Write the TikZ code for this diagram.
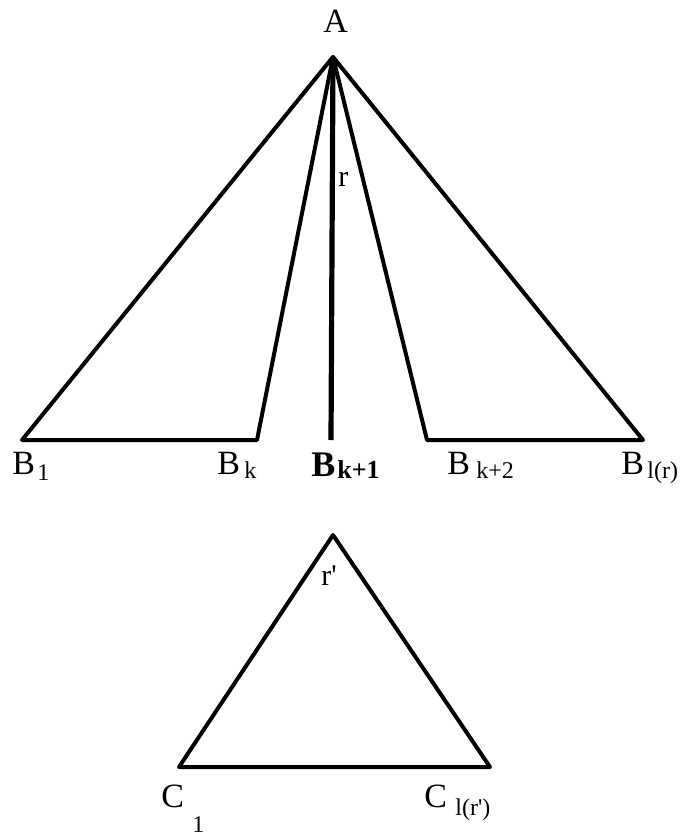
\documentclass[tikz,border=0pt]{standalone}
\usepackage{fontspec}
\setmainfont{Liberation Serif}
\begin{document}
\begin{tikzpicture}[x=0.5pt,y=-0.5pt,
  edge/.style={line width=2pt,line join=round,line cap=round},
  mainedge/.style={line width=2.6pt,line cap=butt},
  lbl/.style={anchor=base west,inner sep=0pt,font=\fontsize{17}{20}\selectfont},
  blbl/.style={anchor=base west,inner sep=0pt,font=\fontsize{18}{20}\selectfont\bfseries},
  sub/.style={anchor=base west,inner sep=0pt,font=\fontsize{12}{14}\selectfont},
  bsub/.style={anchor=base west,inner sep=0pt,font=\fontsize{13}{14}\selectfont\bfseries},
  small/.style={anchor=base west,inner sep=0pt,font=\fontsize{15}{17}\selectfont}]
\useasboundingbox (0,0) rectangle (689,836);
% vertices
\coordinate (apex) at (333,57);
\coordinate (bk1) at (331,440);
\coordinate (b1) at (22,440);
\coordinate (bk) at (257,440);
\coordinate (bk2) at (427,440);
\coordinate (bl) at (643,440);
\coordinate (top) at (333,535);
\coordinate (c1) at (179,767);
\coordinate (cl) at (490,767);
% edges
\draw[edge] (bk) -- (apex) -- (b1) -- cycle;
\draw[edge] (bk2) -- (apex) -- (bl) -- cycle;
\draw[mainedge] (apex) -- (bk1);
\draw[edge] (top) -- (c1) -- (cl) -- cycle;
% labels
\node[lbl] (la) at (323,32) {A};
\node[small] (lr) at (338,186) {r};
\node[small] (lrp) at (321,585) {r\textquotesingle};
\node[lbl] (lb1) at (12,474) {B};
\node[sub] (lb1s) at (37,480) {1};
\node[lbl] (lbk) at (217,474) {B};
\node[sub] (lbks) at (244,478) {k};
\node[blbl] (lbk1) at (311,476) {B};
\node[bsub] (lbk1s) at (337,478) {k+1};
\node[lbl] (lbk2) at (447,474) {B};
\node[sub] (lbk2s) at (476,478) {k+2};
\node[lbl] (lbl) at (621,474) {B};
\node[sub] (lbls) at (647,478) {l(r)};
\node[lbl] (lc1) at (161,807) {C};
\node[sub] (lc1s) at (192,832) {1};
\node[lbl] (lcl) at (424,807) {C};
\node[sub] (lcls) at (455,815) {l(r\textquotesingle)};
\end{tikzpicture}
\end{document}
